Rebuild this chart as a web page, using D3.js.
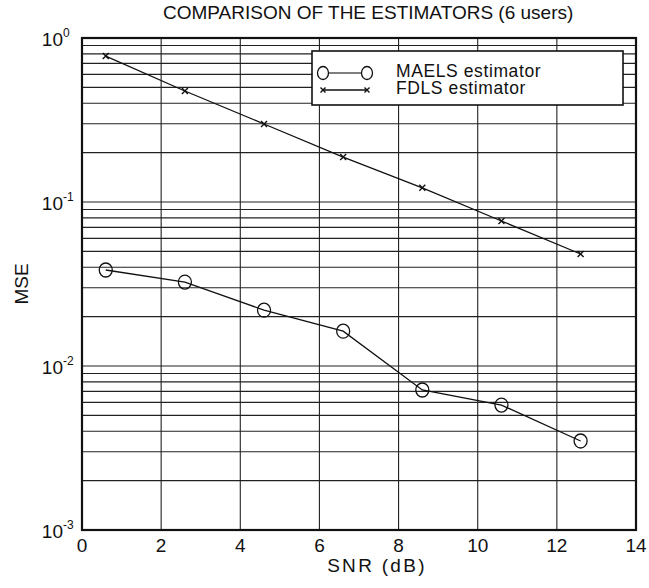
<!DOCTYPE html>
<html><head><meta charset="utf-8">
<script src="https://cdn.jsdelivr.net/npm/d3@7"></script>
<style>body{margin:0;background:#fff;} text{font-family:"Liberation Sans",Arial,sans-serif;fill:#111;}</style>
</head><body>
<svg id="c" width="649" height="588"></svg>
<script>
const snr = [0.6, 2.6, 4.6, 6.6, 8.6, 10.6, 12.6];
const maels = [0.0385, 0.0325, 0.0219, 0.0163, 0.00714, 0.00578, 0.00349];
const fdls = [0.776, 0.475, 0.299, 0.188, 0.122, 0.0766, 0.0482];
const xTicks = [0, 2, 4, 6, 8, 10, 12, 14];
const yExps = [0, -1, -2, -3];
const seriesNames = ["MAELS estimator", "FDLS estimator"];
const title = "COMPARISON OF THE ESTIMATORS (6 users)";

const svg = d3.select("#c");
const L = 82, R = 636, T = 38, B = 530;
const x = d3.scaleLinear().domain([0, 14]).range([L, R]);
const y = d3.scaleLog().domain([1e-3, 1]).range([B, T]);

// grid
const minor = [];
for (let e = -3; e < 0; e++) for (let m = 1; m <= 9; m++) minor.push(m * Math.pow(10, e));
svg.append("g").selectAll("line").data(minor.filter(v => v > 1e-3)).join("line")
  .attr("x1", L).attr("x2", R).attr("y1", d => y(d)).attr("y2", d => y(d))
  .attr("stroke", "#222").attr("stroke-width", 1.1);
svg.append("g").selectAll("line").data(xTicks.slice(1, -1)).join("line")
  .attr("x1", d => x(d)).attr("x2", d => x(d)).attr("y1", T).attr("y2", B)
  .attr("stroke", "#222").attr("stroke-width", 1.1);

// frame
svg.append("rect").attr("x", L).attr("y", T).attr("width", R - L).attr("height", B - T)
  .attr("fill", "none").attr("stroke", "#111").attr("stroke-width", 2.2);

// x tick labels
svg.append("g").selectAll("text").data(xTicks).join("text")
  .attr("x", d => x(d)).attr("y", 552).attr("text-anchor", "middle")
  .attr("font-size", 19).text(d => d);

// y tick labels
svg.append("g").selectAll("text").data(yExps).join("text")
  .attr("x", 63).attr("y", d => y(Math.pow(10, d)) + 8).attr("text-anchor", "end")
  .attr("font-size", 19).text("10");
svg.append("g").selectAll("text").data(yExps).join("text")
  .attr("x", 63).attr("y", d => y(Math.pow(10, d)) - 1).attr("text-anchor", "start")
  .attr("font-size", 12).text(d => d);

// axis labels
svg.append("text").attr("x", 377).attr("y", 572).attr("text-anchor", "middle")
  .attr("font-size", 19).attr("letter-spacing", 2.3).text("SNR (dB)");
svg.append("text").attr("transform", "translate(28,284) rotate(-90)").attr("text-anchor", "middle")
  .attr("font-size", 19).text("MSE");
svg.append("text").attr("x", 163).attr("y", 19).attr("text-anchor", "start")
  .attr("font-size", 19).text(title);

// lines
const line = d3.line().x(d => x(d[0])).y(d => y(d[1]));
const dM = snr.map((s, i) => [s, maels[i]]);
const dF = snr.map((s, i) => [s, fdls[i]]);
svg.append("path").attr("d", line(dM)).attr("fill", "none").attr("stroke", "#111").attr("stroke-width", 1.3);
svg.append("path").attr("d", line(dF)).attr("fill", "none").attr("stroke", "#111").attr("stroke-width", 1.3);
svg.append("g").selectAll("ellipse").data(dM).join("ellipse")
  .attr("cx", d => x(d[0])).attr("cy", d => y(d[1])).attr("rx", 6.5).attr("ry", 7)
  .attr("fill", "none").attr("stroke", "#111").attr("stroke-width", 1.3);
const cross = (g, cx, cy, s) => {
  g.append("path").attr("d", `M${cx - s},${cy - s}L${cx + s},${cy + s}M${cx - s},${cy + s}L${cx + s},${cy - s}`)
    .attr("stroke", "#111").attr("stroke-width", 1.4);
};
const cg = svg.append("g");
dF.forEach(d => cross(cg, x(d[0]), y(d[1]), 3));

// legend
const lg = svg.append("g");
lg.append("rect").attr("x", 312).attr("y", 51).attr("width", 311).attr("height", 54)
  .attr("fill", "#fff").attr("stroke", "#111").attr("stroke-width", 1.6);
lg.append("line").attr("x1", 323).attr("x2", 367).attr("y1", 73).attr("y2", 73).attr("stroke", "#555").attr("stroke-width", 1.3);
[323, 367].forEach(cx => lg.append("ellipse").attr("cx", cx).attr("cy", 73).attr("rx", 5.5).attr("ry", 6.5)
  .attr("fill", "#fff").attr("stroke", "#111").attr("stroke-width", 1.3));
lg.append("line").attr("x1", 323).attr("x2", 367).attr("y1", 90).attr("y2", 90).attr("stroke", "#111").attr("stroke-width", 1.3);
[323, 367].forEach(cx => cross(lg, cx, 90, 2.5));
lg.selectAll("text.l").data(seriesNames).join("text").attr("class", "l")
  .attr("x", 396).attr("y", (d, i) => 77 + i * 17).attr("font-size", 17.5).attr("letter-spacing", 0.6).text(d => d);
</script>
</body></html>
